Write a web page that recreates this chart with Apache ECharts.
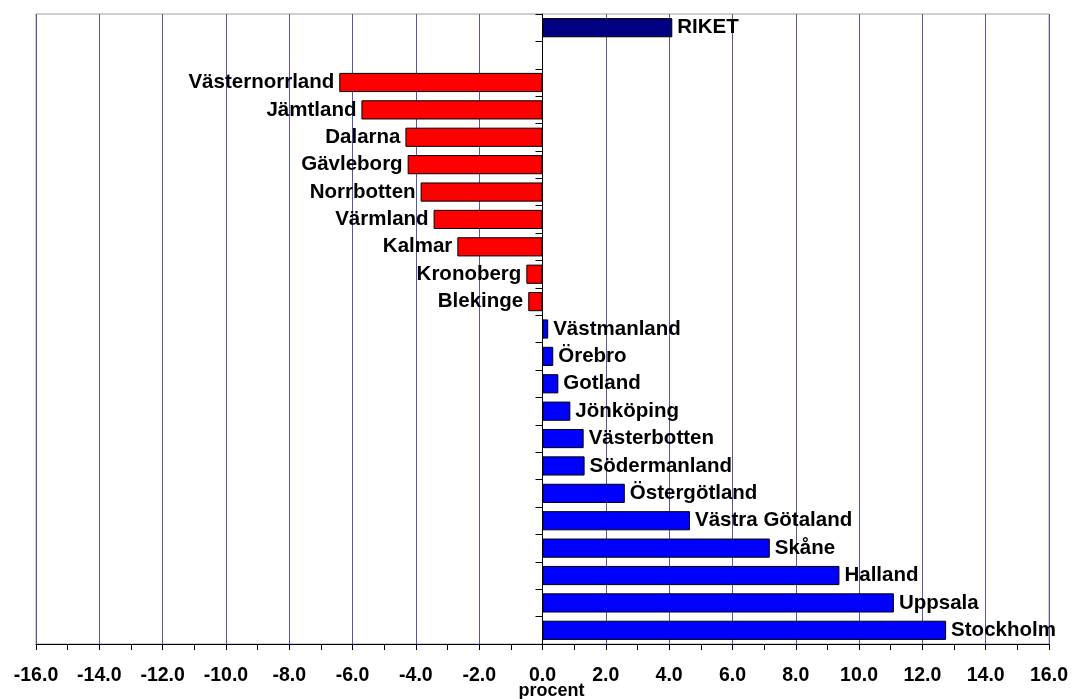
<!DOCTYPE html>
<html>
<head>
<meta charset="utf-8">
<script src="https://cdn.jsdelivr.net/npm/echarts@6/dist/echarts.min.js"></script>
<style>
  html, body { margin: 0; padding: 0; background: #fff; }
  #main { width: 1071px; height: 699px; }
</style>
</head>
<body>
<div id="main"></div>
<script>
// län, uppifrån och ner (tom rad mellan RIKET och länen)
var categories = ['RIKET', '', 'Västernorrland', 'Jämtland', 'Dalarna', 'Gävleborg', 'Norrbotten',
  'Värmland', 'Kalmar', 'Kronoberg', 'Blekinge', 'Västmanland', 'Örebro', 'Gotland', 'Jönköping',
  'Västerbotten', 'Södermanland', 'Östergötland', 'Västra Götaland', 'Skåne', 'Halland', 'Uppsala', 'Stockholm'];
var values = [4.1, null, -6.42, -5.72, -4.33, -4.26, -3.85, -3.44, -2.69, -0.51, -0.45,
  0.18, 0.34, 0.5, 0.88, 1.3, 1.33, 2.6, 4.66, 7.18, 9.38, 11.1, 12.75];
var xTicks = { min: -16, max: 16, step: 2 };

var font = 'Liberation Sans, Arial, sans-serif';

var barData = values.map(function (v, i) {
  if (v === null) return '-';
  var color = i === 0 ? '#000080' : (v < 0 ? '#ff0000' : '#0000ff');
  return {
    value: v,
    itemStyle: { color: color },
    label: { position: v < 0 ? 'left' : 'right' }
  };
});

var myChart = echarts.init(document.getElementById('main'));
myChart.setOption({
  animation: false,
  grid: {
    left: 36, right: 22, top: 14, bottom: 55,
    containLabel: false, outerBoundsMode: 'none',
    show: true, borderColor: '#a0a0a0', borderWidth: 1
  },
  xAxis: {
    type: 'value',
    min: xTicks.min, max: xTicks.max, interval: xTicks.step,
    name: 'procent', nameLocation: 'middle', nameGap: 38, nameMoveOverlap: false,
    nameTextStyle: { fontFamily: font, fontWeight: 'bold', fontSize: 18, color: '#000', padding: [0, 0, 0, 18] },
    axisLine: { show: true, lineStyle: { color: '#000', width: 1 } },
    axisTick: { show: true, length: 6, lineStyle: { color: '#000' } },
    minorTick: { show: true, splitNumber: 2, length: 6, lineStyle: { color: '#000' } },
    axisLabel: {
      margin: 22, color: '#000', fontFamily: font, fontWeight: 'bold', fontSize: 19.5,
      formatter: function (v) { return v.toFixed(1); }
    },
    splitLine: { show: true, lineStyle: { color: '#5555aa', width: 1 } }
  },
  yAxis: {
    type: 'category',
    inverse: true,
    data: categories,
    axisLine: { show: true, onZero: true, lineStyle: { color: '#000', width: 1 } },
    axisTick: { show: true, length: 7, lineStyle: { color: '#000' } },
    axisLabel: { show: false },
    splitLine: { show: false }
  },
  series: [{
    type: 'bar',
    barWidth: '70%',
    data: barData,
    itemStyle: { borderColor: '#000', borderWidth: 1 },
    label: {
      show: true,
      distance: 5,
      formatter: '{b}',
      color: '#000', fontFamily: font, fontWeight: 'bold', fontSize: 20.5
    }
  }]
});
</script>
</body>
</html>
